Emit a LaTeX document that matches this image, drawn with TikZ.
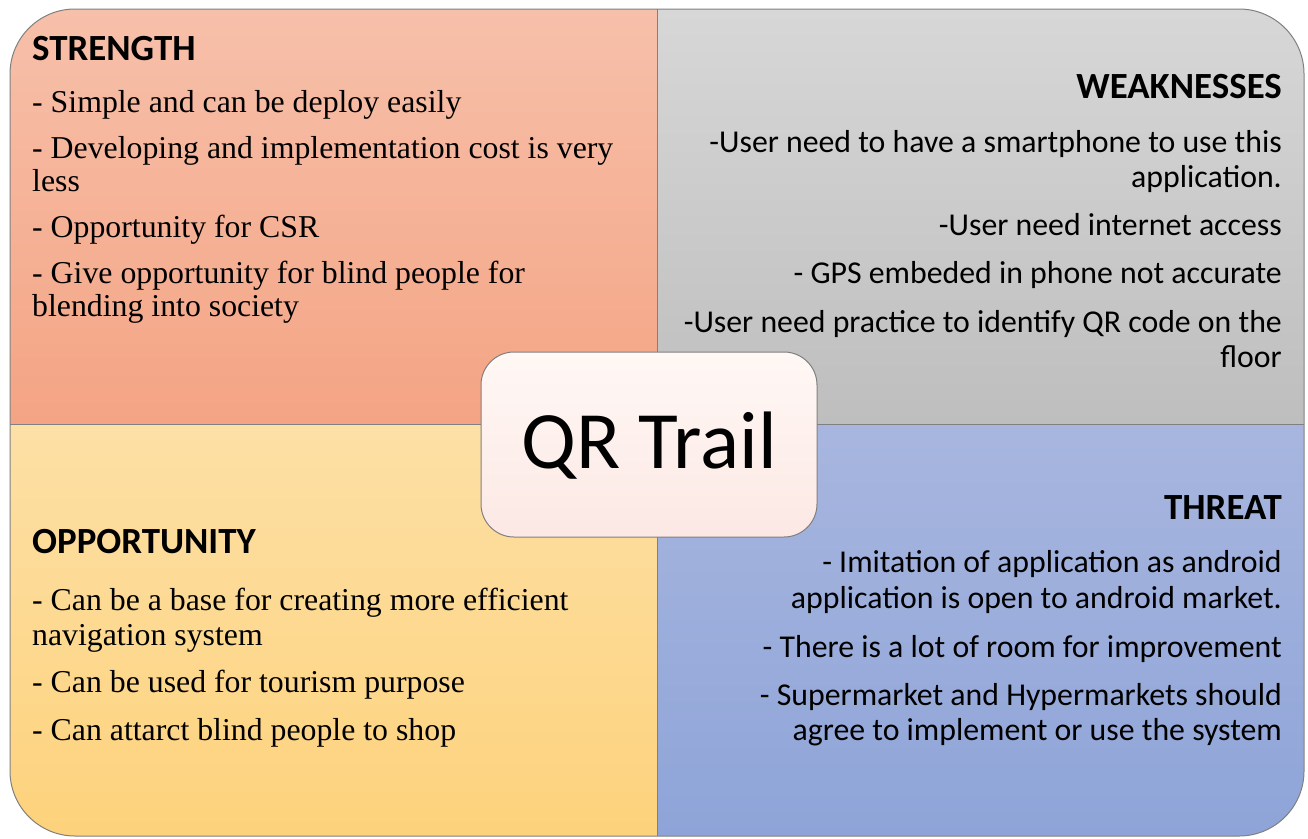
\documentclass[tikz,border=0pt]{standalone}
\usepackage{fontspec}
\setmainfont{Liberation Serif}
\newfontfamily\calfont{Carlito}
\definecolor{tlT}{HTML}{F7C0AA}
\definecolor{tlB}{HTML}{F4A484}
\definecolor{trT}{HTML}{D7D7D7}
\definecolor{trB}{HTML}{BEBEBE}
\definecolor{blT}{HTML}{FDE0A6}
\definecolor{blB}{HTML}{FDD27C}
\definecolor{brT}{HTML}{A8B6DF}
\definecolor{brB}{HTML}{8EA4D8}
\definecolor{cT}{HTML}{FFF8F5}
\definecolor{cB}{HTML}{FCE8E4}
\definecolor{edge}{HTML}{808080}
\begin{document}
\begin{tikzpicture}[x=1pt,y=-1pt,
  serif/.style={anchor=base west, inner sep=0pt, font=\fontsize{31.8}{32}\selectfont},
  sansR/.style={anchor=base east, inner sep=0pt, font=\calfont\fontsize{31.8}{35}\selectfont},
  headL/.style={anchor=base west, inner sep=0pt, font=\calfont\bfseries\fontsize{36.9}{40}\selectfont},
  headR/.style={anchor=base east, inner sep=0pt, font=\calfont\bfseries\fontsize{36.9}{40}\selectfont},
  frame/.style={draw=edge, line width=1pt},
  centerbox/.style={draw=edge, line width=1pt, rounded corners=33pt, top color=cT, bottom color=cB,
    minimum width=336pt, minimum height=185pt, inner sep=0pt,
    text height=53pt, text depth=6pt, font=\calfont\fontsize{81.5}{90}\selectfont}]
\useasboundingbox (0,0) rectangle (1308,838);
\begin{scope}
  \clip[rounded corners=65pt] (10,9) rectangle (1304,836);
  \shade[top color=tlT, bottom color=tlB] (10,9) rectangle (657,424);
  \shade[top color=trT, bottom color=trB] (657,9) rectangle (1304,424);
  \shade[top color=blT, bottom color=blB] (10,424) rectangle (657,836);
  \shade[top color=brT, bottom color=brB] (657,424) rectangle (1304,836);
\end{scope}
\draw[frame] (657,9) -- (657,836);
\draw[frame] (10,424) -- (1304,424);
\draw[frame, rounded corners=65pt] (10,9) rectangle (1304,836);

% Strength
\node[headL] (sh) at (32,60) {STRENGTH};
\node[serif] (s1) at (32,112) {- Simple and can be deploy easily};
\node[serif] (s2) at (32,158) {- Developing and implementation cost is very};
\node[serif] (s2b) at (32,191) {less};
\node[serif] (s3) at (32,237) {- Opportunity for CSR};
\node[serif] (s4) at (32,283) {- Give opportunity for blind people for};
\node[serif] (s4b) at (32,316) {blending into society};

% Weaknesses
\node[headR] (wh) at (1282,98) {WEAKNESSES};
\node[sansR] (w1) at (1282,152) {-User need to have a smartphone to use this};
\node[sansR] (w1b) at (1282,187) {application.};
\node[sansR] (w2) at (1282,235) {-User need internet access};
\node[sansR] (w3) at (1282,283) {- GPS embeded in phone not accurate};
\node[sansR] (w4) at (1282,332) {-User need practice to identify QR code on the};
\node[sansR] (w4b) at (1282,367) {floor};

% Opportunity
\node[headL] (oh) at (32,553) {OPPORTUNITY};
\node[serif] (o1) at (32,610) {- Can be a base for creating more efficient};
\node[serif] (o1b) at (32,645) {navigation system};
\node[serif] (o2) at (32,692) {- Can be used for tourism purpose};
\node[serif] (o3) at (32,740) {- Can attarct blind people to shop};

% Threat
\node[headR] (th) at (1282,519) {THREAT};
\node[sansR] (t1) at (1282,572) {- Imitation of application as android};
\node[sansR] (t1b) at (1282,608) {application is open to android market.};
\node[sansR] (t2) at (1282,657) {- There is a lot of room for improvement};
\node[sansR] (t3) at (1282,705) {- Supermarket and Hypermarkets should};
\node[sansR] (t3b) at (1282,740) {agree to implement or use the system};

% Center
\node[centerbox] (qr) at (649,444.5) {QR Trail};
\end{tikzpicture}
\end{document}
